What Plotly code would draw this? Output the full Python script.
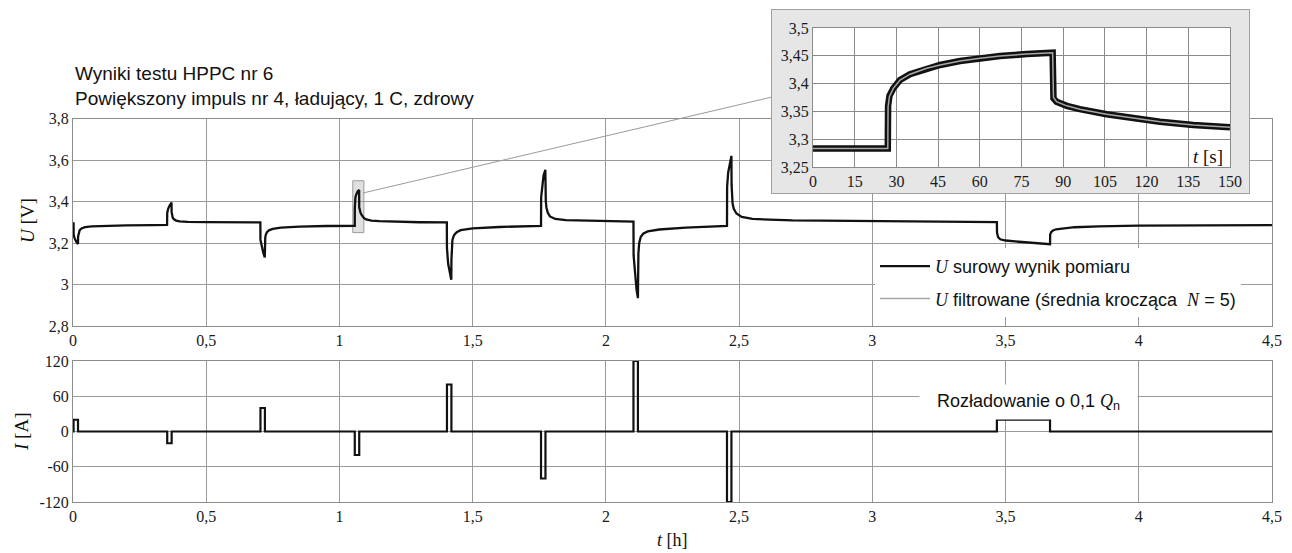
import plotly.graph_objects as go

W, H = 1292, 553

# ---------------- data ----------------
t_h = (
    [0.000, 0.002, 0.0025, 0.006, 0.012, 0.0187, 0.019, 0.021, 0.025, 0.032, 0.045, 0.07, 0.12, 0.2, 0.3, 0.353]
    + [0.3535, 0.357, 0.363, 0.3697, 0.370, 0.3715, 0.374, 0.379, 0.387, 0.40, 0.43, 0.5, 0.6, 0.703]
    + [0.7035, 0.708, 0.714, 0.7197, 0.7203, 0.7215, 0.724, 0.729, 0.737, 0.75, 0.78, 0.85, 0.95, 1.0575]
    + [1.0576, 1.0580, 1.0587, 1.0597, 1.0614, 1.0627, 1.0647, 1.0667, 1.0687, 1.0714, 1.0739, 1.0741,
       1.0754, 1.0767, 1.0793, 1.0820, 1.0847, 1.0880, 1.0915, 1.10, 1.12, 1.15, 1.2, 1.3, 1.403]
    + [1.4035, 1.408, 1.414, 1.4197, 1.4203, 1.4215, 1.424, 1.43, 1.44, 1.455, 1.5, 1.6, 1.7565]
    + [1.757, 1.761, 1.766, 1.7727, 1.7733, 1.7745, 1.777, 1.782, 1.79, 1.81, 1.85, 1.95, 2.1035]
    + [2.104, 2.109, 2.115, 2.1202, 2.1208, 2.122, 2.125, 2.131, 2.141, 2.157, 2.2, 2.3, 2.4545]
    + [2.455, 2.459, 2.465, 2.4712, 2.4718, 2.473, 2.4755, 2.48, 2.49, 2.51, 2.55, 2.7, 3.0, 3.3, 3.4675]
    + [3.468, 3.472, 3.48, 3.5, 3.55, 3.62, 3.667, 3.6675, 3.671, 3.678, 3.69, 3.72, 3.76, 3.85, 4.0, 4.25, 4.5]
)
u_raw = (
    [3.298, 3.296, 3.240, 3.222, 3.207, 3.195, 3.232, 3.250, 3.262, 3.270, 3.276, 3.280, 3.283, 3.285, 3.286, 3.287]
    + [3.345, 3.365, 3.382, 3.395, 3.350, 3.334, 3.323, 3.314, 3.308, 3.304, 3.302, 3.301, 3.300, 3.299]
    + [3.215, 3.180, 3.153, 3.130, 3.200, 3.226, 3.242, 3.254, 3.262, 3.268, 3.274, 3.279, 3.282, 3.283]
    + [3.365, 3.392, 3.407, 3.417, 3.428, 3.434, 3.441, 3.446, 3.450, 3.453, 3.456, 3.372,
       3.360, 3.354, 3.345, 3.338, 3.332, 3.326, 3.321, 3.314, 3.308, 3.305, 3.303, 3.300, 3.299]
    + [3.175, 3.100, 3.055, 3.023, 3.120, 3.180, 3.215, 3.238, 3.252, 3.262, 3.270, 3.277, 3.283]
    + [3.420, 3.485, 3.525, 3.553, 3.450, 3.400, 3.370, 3.345, 3.328, 3.316, 3.310, 3.306, 3.303]
    + [3.140, 3.040, 2.975, 2.934, 3.070, 3.150, 3.200, 3.230, 3.246, 3.256, 3.265, 3.274, 3.283]
    + [3.470, 3.540, 3.590, 3.620, 3.480, 3.430, 3.390, 3.365, 3.342, 3.326, 3.316, 3.309, 3.305, 3.302, 3.301]
    + [3.250, 3.228, 3.218, 3.212, 3.206, 3.199, 3.194, 3.240, 3.252, 3.260, 3.266, 3.271, 3.276, 3.280, 3.284, 3.285, 3.286]
)

# Current I [A] (step changes, drawn with hv steps)
i_t = [0, 0.002, 0.0187, 0.3535, 0.3702, 0.7035, 0.7202, 1.0575, 1.0742, 1.4035, 1.4202,
       1.7565, 1.7732, 2.1035, 2.1202, 2.4545, 2.4712, 3.4675, 3.667, 4.5]
i_a = [0, 20, 0, -20, 0, 40, 0, -40, 0, 80, 0, -80, 0, 120, 0, -120, 0, 20, 0, 0]
i_tickvals = [-120, -60, 0, 60, 120]
i_ticktext = ["-120", "-60", "0", "60", "120"]

# Zoomed pulse no. 4 (inset), time in seconds from the window start at t = 1.05 h
zoom_start_h = 1.05
zoom_len_s = 150
zoom_t_s = [0, 5, 10, 15, 20, 26.9, 27.0, 27.5, 28.9, 31.3, 34.9, 40.9, 45.7, 52.9, 60.1, 67.3, 76.9, 86.2,
            86.5, 87.6, 91.3, 96.0, 105.6, 115.2, 124.8, 136.8, 150]
zoom_u_raw = [3.283, 3.283, 3.282, 3.283, 3.282, 3.283, 3.360, 3.378, 3.3915, 3.4065, 3.417, 3.4275, 3.4335,
              3.4406, 3.4455, 3.4496, 3.4532, 3.4556, 3.3735, 3.3675, 3.360, 3.354, 3.3448, 3.3376, 3.3315,
              3.3255, 3.3214]
zoom_u_filt = [3.283, 3.283, 3.282, 3.283, 3.282, 3.283, 3.358, 3.377, 3.3915, 3.4065, 3.417, 3.4275, 3.4335,
               3.4406, 3.4455, 3.4496, 3.4532, 3.4556, 3.3750, 3.3675, 3.360, 3.354, 3.3448, 3.3376, 3.3315,
               3.3255, 3.3214]

# ---------------- layout helpers (pixel positions) ----------------
def fx(p):
    return p / W


def fy(p):
    return 1 - p / H


SERIF = "Liberation Serif"
SANS = "Liberation Sans"
GRID = "#9a9a9a"
TICKFONT = dict(family=SERIF, size=16, color="#1a1a1a")
SERIF_SPAN = "<span style='font-family:Liberation Serif'><i>{}</i></span>"

fig = go.Figure()

fig.add_trace(go.Scatter(
    x=t_h, y=u_raw, mode="lines", xaxis="x", yaxis="y",
    line=dict(color="#111111", width=2.3),
    name=SERIF_SPAN.format("U") + " surowy wynik pomiaru",
    legendrank=1, legendgroup="raw", hoverinfo="skip"))

fig.add_trace(go.Scatter(
    x=i_t, y=i_a, mode="lines", xaxis="x2", yaxis="y2", line_shape="hv",
    line=dict(color="#111111", width=2.2), showlegend=False, hoverinfo="skip"))

# inset background panel
fig.add_trace(go.Scatter(
    x=[0, 1, 1, 0, 0], y=[0, 0, 1, 1, 0], mode="lines", xaxis="x3", yaxis="y3",
    fill="toself", fillcolor="#e6e6e6", line=dict(width=0), showlegend=False, hoverinfo="skip"))

fig.add_trace(go.Scatter(
    x=zoom_t_s, y=zoom_u_raw, mode="lines", xaxis="x4", yaxis="y4",
    line=dict(color="#111111", width=6.5), showlegend=False, legendgroup="raw", hoverinfo="skip"))

fig.add_trace(go.Scatter(
    x=zoom_t_s, y=zoom_u_filt, mode="lines", xaxis="x4", yaxis="y4",
    line=dict(color="#a8a8a8", width=1.5),
    name=SERIF_SPAN.format("U") + " filtrowane (średnia krocząca  " + SERIF_SPAN.format("N") + " = 5)",
    legendrank=2, legendgroup="filt", hoverinfo="skip"))

axis_common = dict(showgrid=True, gridcolor=GRID, gridwidth=1, showline=True, mirror=True,
                   linecolor="#8c8c8c", linewidth=1, ticks="", zeroline=False, tickfont=TICKFONT,
                   automargin=False)
inset_axis = {**axis_common, "gridcolor": "#8a8a8a", "linecolor": "#8a8a8a"}
box_axis = dict(showgrid=False, zeroline=False, showticklabels=False, showline=True, mirror=True,
                linecolor="#a0a0a0", linewidth=1, ticks="", automargin=False)

fig.update_layout(
    width=W, height=H, margin=dict(l=0, r=0, t=0, b=0, autoexpand=False),
    paper_bgcolor="white", plot_bgcolor="white",
    font=dict(family=SERIF, size=16, color="#1a1a1a"),
    separators=", ",
    xaxis=dict(domain=[fx(73), fx(1272)], range=[-0.0001, 4.5001], tick0=0, dtick=0.5, anchor="y", **axis_common),
    yaxis=dict(domain=[fy(326), fy(118.5)], range=[2.7999, 3.8001], tick0=0, dtick=0.2, anchor="x", **axis_common),
    xaxis2=dict(domain=[fx(73), fx(1272)], range=[-0.0001, 4.5001], tick0=0, dtick=0.5, anchor="y2", **axis_common),
    yaxis2=dict(domain=[fy(502), fy(361)], range=[-120.01, 120.01], tickmode="array",
                tickvals=i_tickvals, ticktext=i_ticktext, anchor="x2", **axis_common),
    xaxis3=dict(domain=[fx(772), fx(1249)], range=[0, 1], anchor="y3", **box_axis),
    yaxis3=dict(domain=[fy(193), fy(10)], range=[0, 1], anchor="x3", **box_axis),
    xaxis4=dict(domain=[fx(813), fx(1230)], range=[-0.01, zoom_len_s + 0.01], tick0=0, dtick=15, anchor="y4",
                **inset_axis),
    yaxis4=dict(domain=[fy(167), fy(28)], range=[3.2499, 3.5001], tick0=0, dtick=0.05, anchor="x4",
                **inset_axis),
    legend=dict(x=fx(875), xanchor="left", y=fy(248), yanchor="top", bgcolor="white", borderwidth=0,
                font=dict(family=SANS, size=18, color="#111111"), itemwidth=50, traceorder="grouped",
                tracegroupgap=6),
    showlegend=True,
)

# highlighted window in the main plot + connector to inset
fig.add_shape(type="rect", xref="x", yref="y", x0=zoom_start_h, x1=zoom_start_h + zoom_len_s / 3600,
              y0=3.25, y1=3.5, fillcolor="#e0e0e0", line=dict(color="#9a9a9a", width=1), layer="below")
fig.add_shape(type="line", xref="paper", yref="paper", x0=fx(363), y0=fy(193), x1=fx(772), y1=fy(97),
              line=dict(color="#9a9a9a", width=1), layer="above")

ann = []
ann.append(dict(xref="paper", yref="paper", x=fx(73), y=fy(86), xanchor="left", yanchor="middle", align="left",
                text="Wyniki testu HPPC nr 6<br>Powiększony impuls nr 4, ładujący, 1 C, zdrowy",
                font=dict(family=SANS, size=19, color="#111111"), showarrow=False))
ann.append(dict(xref="paper", yref="paper", x=fx(27), y=fy(220), xanchor="center", yanchor="middle",
                textangle=-90, text="<i>U</i> [V]",
                font=dict(family=SERIF, size=19, color="#111111"), showarrow=False))
ann.append(dict(xref="paper", yref="paper", x=fx(21), y=fy(432), xanchor="center", yanchor="middle",
                textangle=-90, text="<i>I</i> [A]",
                font=dict(family=SERIF, size=19, color="#111111"), showarrow=False))
ann.append(dict(xref="paper", yref="paper", x=fx(672), y=fy(540), xanchor="center", yanchor="middle",
                text="<i>t</i> [h]",
                font=dict(family=SERIF, size=18, color="#111111"), showarrow=False))
ann.append(dict(xref="paper", yref="paper", x=fx(1208), y=fy(156), xanchor="center", yanchor="middle",
                text="<i>t</i> [s]",
                font=dict(family=SERIF, size=19, color="#111111"), showarrow=False))
ann.append(dict(xref="x2", yref="y2", x=3.587, y=50, xanchor="center", yanchor="middle",
                text="Rozładowanie o 0,1 " + SERIF_SPAN.format("Q") + "<sub>n</sub>",
                font=dict(family=SANS, size=18, color="#111111"), showarrow=False,
                bgcolor="white", width=217, height=34, borderpad=0))
fig.update_layout(annotations=ann)

fig.write_html("out.html")
